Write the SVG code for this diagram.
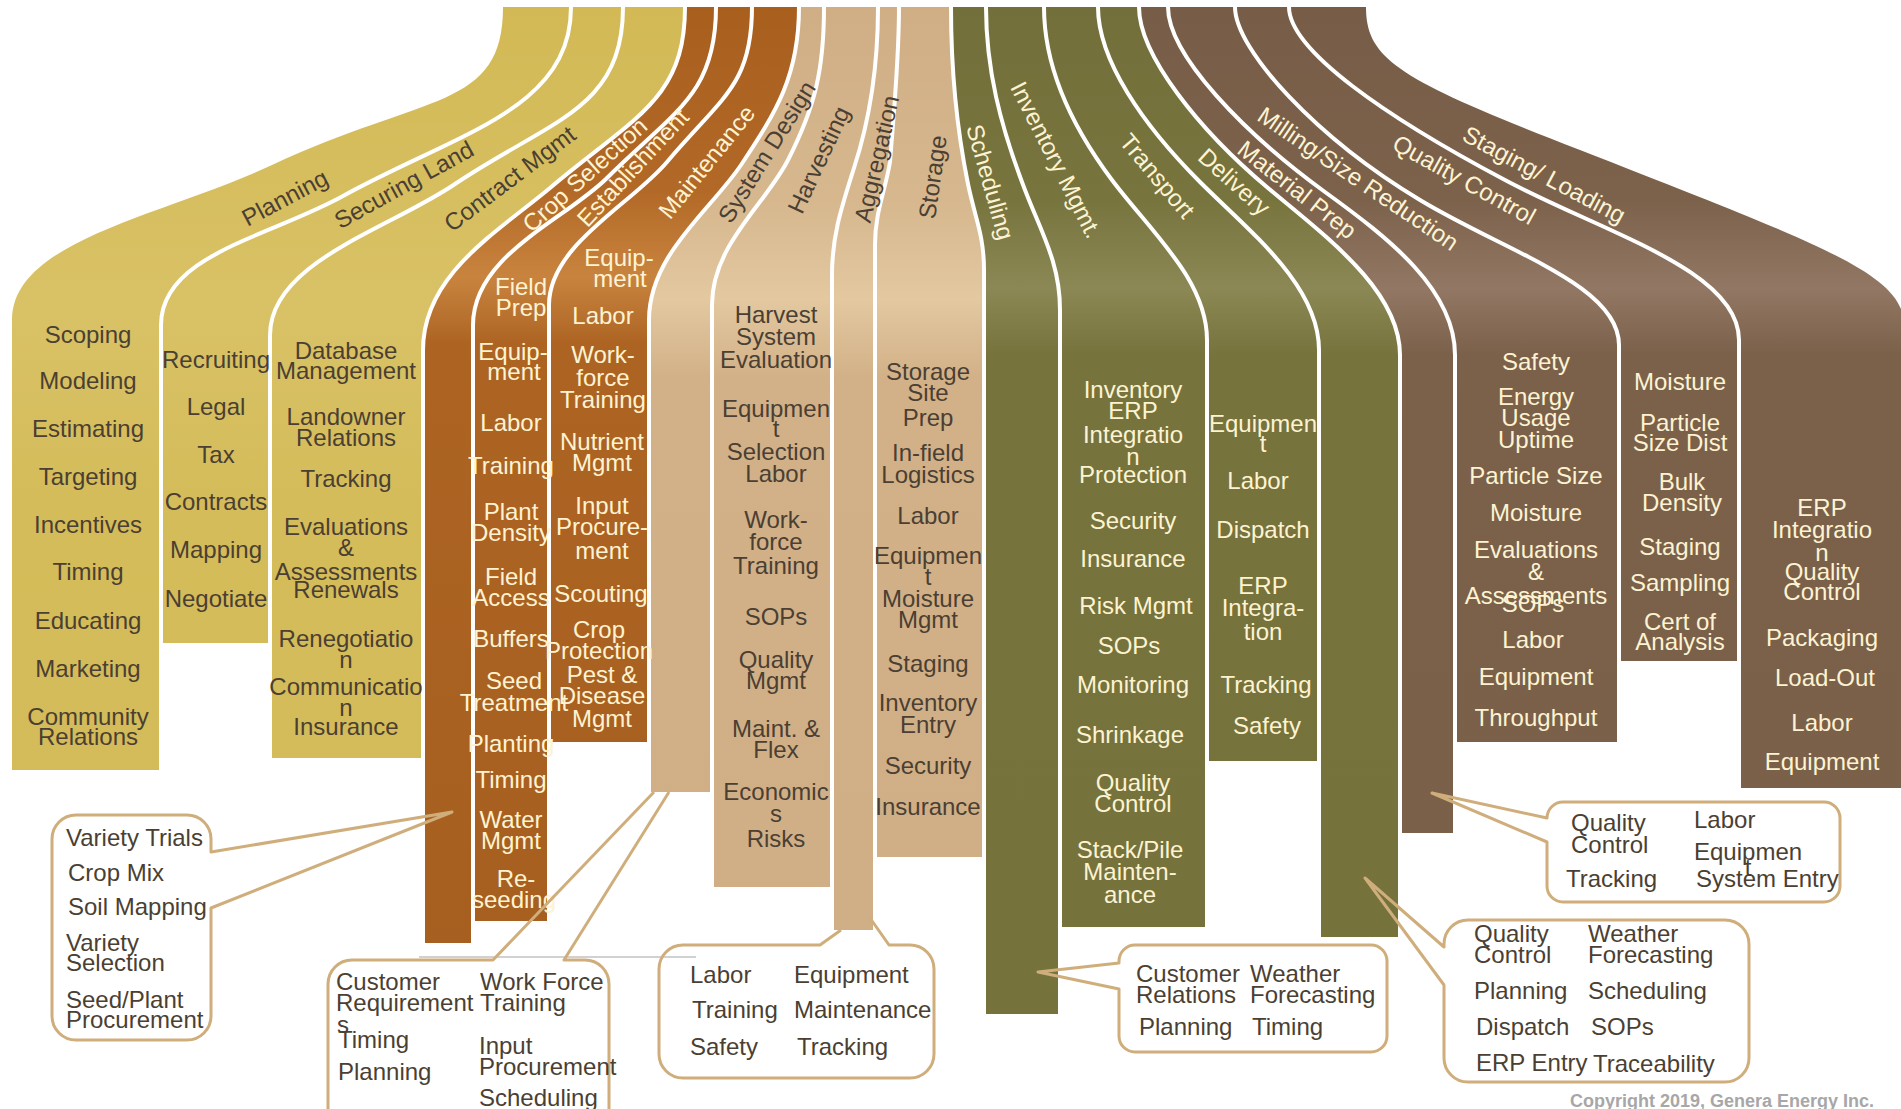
<svg xmlns="http://www.w3.org/2000/svg" width="1901" height="1109" viewBox="0 0 1901 1109">
<defs>
<style>
.t{font-family:"Liberation Sans",Arial,Helvetica,sans-serif;font-size:24px;text-anchor:middle}
.d{fill:#4b3f33}
.l{fill:#fdf3d2}
.s{text-anchor:start}
.sep{fill:none;stroke:#ffffff;stroke-width:4}
.co{fill:none;stroke:#cfae7c;stroke-width:3;stroke-linejoin:round}
.cp{font-family:"Liberation Sans",Arial,Helvetica,sans-serif;font-size:18px;font-weight:bold;fill:#a7a7a7}
</style>
<linearGradient id="gY" gradientUnits="userSpaceOnUse" x1="0" y1="0" x2="0" y2="1109">
<stop offset="0" stop-color="#d2b955"/><stop offset="0.28" stop-color="#d9c266"/><stop offset="0.45" stop-color="#d4bc5a"/><stop offset="1" stop-color="#d3bb58"/>
</linearGradient>
<linearGradient id="gO" gradientUnits="userSpaceOnUse" x1="0" y1="0" x2="0" y2="1109">
<stop offset="0" stop-color="#a85f1e"/><stop offset="0.17" stop-color="#b26826"/><stop offset="0.25" stop-color="#c8843f"/><stop offset="0.31" stop-color="#ad6423"/><stop offset="1" stop-color="#a55e1f"/>
</linearGradient>
<linearGradient id="gT" gradientUnits="userSpaceOnUse" x1="0" y1="0" x2="0" y2="1109">
<stop offset="0" stop-color="#d0ae85"/><stop offset="0.18" stop-color="#d6b78e"/><stop offset="0.27" stop-color="#e3c8a0"/><stop offset="0.34" stop-color="#d2b188"/><stop offset="1" stop-color="#cfae85"/>
</linearGradient>
<linearGradient id="gV" gradientUnits="userSpaceOnUse" x1="0" y1="0" x2="0" y2="1109">
<stop offset="0" stop-color="#726f3a"/><stop offset="0.18" stop-color="#77743e"/><stop offset="0.26" stop-color="#8b8855"/><stop offset="0.32" stop-color="#76733d"/><stop offset="1" stop-color="#75723c"/>
</linearGradient>
<linearGradient id="gB" gradientUnits="userSpaceOnUse" x1="0" y1="0" x2="0" y2="1109">
<stop offset="0" stop-color="#775d47"/><stop offset="0.18" stop-color="#7c624b"/><stop offset="0.26" stop-color="#927864"/><stop offset="0.32" stop-color="#7b614a"/><stop offset="1" stop-color="#7a6049"/>
</linearGradient>
<clipPath id="L1"><path d="M571,-20 L571,7 C571,110 457,133 343,196 C269,237 161,255 161,325 L161,1200 L-50,1200 L-50,-20 Z"/></clipPath>
<clipPath id="L2"><path d="M623,-20 L623,7 C623,110 550,120 455,184 C389,229 270,262 270,335 L270,1200 L-50,1200 L-50,-20 Z"/></clipPath>
<clipPath id="L3"><path d="M685,-20 L685,7 C685,100 634,117 550,188 C496,233 423,275 423,350 L423,1200 L-50,1200 L-50,-20 Z"/></clipPath>
<clipPath id="L4"><path d="M716,-20 L716,7 C716,95 674,111 607,178 C565,220 473,255 473,325 L473,1200 L-50,1200 L-50,-20 Z"/></clipPath>
<clipPath id="L5"><path d="M752,-20 L752,7 C752,85 722,97 667,162 C632,204 549,245 549,305 L549,1200 L-50,1200 L-50,-20 Z"/></clipPath>
<clipPath id="L6"><path d="M799,-20 L799,7 C799,75 777,111 741,165 C710,211 649,255 649,320 L649,1200 L-50,1200 L-50,-20 Z"/></clipPath>
<clipPath id="L7"><path d="M824,-20 L824,7 C824,70 815,107 788,160 C765,205 712,245 712,305 L712,1200 L-50,1200 L-50,-20 Z"/></clipPath>
<clipPath id="L8"><path d="M878,-20 L878,7 C878,65 871,116 854,168 C842,206 832,235 832,275 L832,1200 L-50,1200 L-50,-20 Z"/></clipPath>
<clipPath id="L9"><path d="M899,-20 L899,7 C899,60 894,110 890,162 C885,192 875,212 875,245 L875,1200 L-50,1200 L-50,-20 Z"/></clipPath>
<clipPath id="L10"><path d="M951,-20 L951,7 C951,75 957,130 968,184 C975,218 984,235 984,270 L984,1200 L-50,1200 L-50,-20 Z"/></clipPath>
<clipPath id="L11"><path d="M986,-20 L986,7 C986,70 1001,126 1022,182 C1039,229 1060,260 1060,310 L1060,1200 L-50,1200 L-50,-20 Z"/></clipPath>
<clipPath id="L12"><path d="M1044,-20 L1044,7 C1044,65 1070,124 1112,180 C1151,232 1207,280 1207,340 L1207,1200 L-50,1200 L-50,-20 Z"/></clipPath>
<clipPath id="L13"><path d="M1098,-20 L1098,7 C1098,60 1143,125 1200,182 C1249,231 1319,285 1319,350 L1319,1200 L-50,1200 L-50,-20 Z"/></clipPath>
<clipPath id="L14"><path d="M1139,-20 L1139,7 C1139,55 1199,130 1268,188 C1325,236 1400,290 1400,355 L1400,1200 L-50,1200 L-50,-20 Z"/></clipPath>
<clipPath id="L15"><path d="M1168,-20 L1168,7 C1168,55 1244,133 1325,192 C1390,239 1455,290 1455,355 L1455,1200 L-50,1200 L-50,-20 Z"/></clipPath>
<clipPath id="L16"><path d="M1235,-20 L1235,7 C1235,50 1317,138 1420,200 C1506,252 1619,285 1619,345 L1619,1200 L-50,1200 L-50,-20 Z"/></clipPath>
<clipPath id="L17"><path d="M1289,-20 L1289,7 C1289,50 1386,117 1505,180 C1602,232 1739,270 1739,340 L1739,1200 L-50,1200 L-50,-20 Z"/></clipPath>
<clipPath id="L18"><path d="M1366,-20 L1366,7 C1366,60 1400,80 1580,150 C1840,252 1905,275 1905,330 L1905,1200 L-50,1200 L-50,-20 Z"/></clipPath>
</defs>
<rect x="0" y="0" width="1901" height="1109" fill="#ffffff"/>

<g id="bands">
<path id="band-planning" fill="url(#gY)" clip-path="url(#L1)" d="M503,7 C503,110 426,93 272,165 C163,216 12,240 12,320 L12,770 L1960,770 L1960,7 Z"/>
<path id="band-securing-land" fill="url(#gY)" clip-path="url(#L2)" d="M571,7 C571,110 457,133 343,196 C269,237 161,255 161,325 L161,643 L1960,643 L1960,7 Z"/>
<path id="band-contract-mgmt" fill="url(#gY)" clip-path="url(#L3)" d="M623,7 C623,110 550,120 455,184 C389,229 270,262 270,335 L270,758 L1960,758 L1960,7 Z"/>
<path id="band-crop-selection" fill="url(#gO)" clip-path="url(#L4)" d="M685,7 C685,100 634,117 550,188 C496,233 423,275 423,350 L423,943 L1960,943 L1960,7 Z"/>
<path id="band-establishment" fill="url(#gO)" clip-path="url(#L5)" d="M716,7 C716,95 674,111 607,178 C565,220 473,255 473,325 L473,921 L1960,921 L1960,7 Z"/>
<path id="band-maintenance" fill="url(#gO)" clip-path="url(#L6)" d="M752,7 C752,85 722,97 667,162 C632,204 549,245 549,305 L549,742 L1960,742 L1960,7 Z"/>
<path id="band-system-design" fill="url(#gT)" clip-path="url(#L7)" d="M799,7 C799,75 777,111 741,165 C710,211 649,255 649,320 L649,792 L1960,792 L1960,7 Z"/>
<path id="band-harvesting" fill="url(#gT)" clip-path="url(#L8)" d="M824,7 C824,70 815,107 788,160 C765,205 712,245 712,305 L712,887 L1960,887 L1960,7 Z"/>
<path id="band-aggregation" fill="url(#gT)" clip-path="url(#L9)" d="M878,7 C878,65 871,116 854,168 C842,206 832,235 832,275 L832,930 L1960,930 L1960,7 Z"/>
<path id="band-storage" fill="url(#gT)" clip-path="url(#L10)" d="M899,7 C899,60 894,110 890,162 C885,192 875,212 875,245 L875,857 L1960,857 L1960,7 Z"/>
<path id="band-scheduling" fill="url(#gV)" clip-path="url(#L11)" d="M951,7 C951,75 957,130 968,184 C975,218 984,235 984,270 L984,1014 L1960,1014 L1960,7 Z"/>
<path id="band-inventory-mgmt" fill="url(#gV)" clip-path="url(#L12)" d="M986,7 C986,70 1001,126 1022,182 C1039,229 1060,260 1060,310 L1060,927 L1960,927 L1960,7 Z"/>
<path id="band-transport" fill="url(#gV)" clip-path="url(#L13)" d="M1044,7 C1044,65 1070,124 1112,180 C1151,232 1207,280 1207,340 L1207,761 L1960,761 L1960,7 Z"/>
<path id="band-delivery" fill="url(#gV)" clip-path="url(#L14)" d="M1098,7 C1098,60 1143,125 1200,182 C1249,231 1319,285 1319,350 L1319,937 L1960,937 L1960,7 Z"/>
<path id="band-material-prep" fill="url(#gB)" clip-path="url(#L15)" d="M1139,7 C1139,55 1199,130 1268,188 C1325,236 1400,290 1400,355 L1400,833 L1960,833 L1960,7 Z"/>
<path id="band-milling" fill="url(#gB)" clip-path="url(#L16)" d="M1168,7 C1168,55 1244,133 1325,192 C1390,239 1455,290 1455,355 L1455,742 L1960,742 L1960,7 Z"/>
<path id="band-quality-control" fill="url(#gB)" clip-path="url(#L17)" d="M1235,7 C1235,50 1317,138 1420,200 C1506,252 1619,285 1619,345 L1619,661 L1960,661 L1960,7 Z"/>
<path id="band-staging-loading" fill="url(#gB)" clip-path="url(#L18)" d="M1289,7 C1289,50 1386,117 1505,180 C1602,232 1739,270 1739,340 L1739,788 L1960,788 L1960,7 Z"/>
</g>

<g id="separators">
<path class="sep" d="M571,7 C571,110 457,133 343,196 C269,237 161,255 161,325 L161,770"/>
<path class="sep" d="M623,7 C623,110 550,120 455,184 C389,229 270,262 270,335 L270,758"/>
<path class="sep" d="M685,7 C685,100 634,117 550,188 C496,233 423,275 423,350 L423,943"/>
<path class="sep" d="M716,7 C716,95 674,111 607,178 C565,220 473,255 473,325 L473,943"/>
<path class="sep" d="M752,7 C752,85 722,97 667,162 C632,204 549,245 549,305 L549,921"/>
<path class="sep" d="M799,7 C799,75 777,111 741,165 C710,211 649,255 649,320 L649,792"/>
<path class="sep" d="M824,7 C824,70 815,107 788,160 C765,205 712,245 712,305 L712,887"/>
<path class="sep" d="M878,7 C878,65 871,116 854,168 C842,206 832,235 832,275 L832,930"/>
<path class="sep" d="M899,7 C899,60 894,110 890,162 C885,192 875,212 875,245 L875,930"/>
<path class="sep" d="M951,7 C951,75 957,130 968,184 C975,218 984,235 984,270 L984,1014"/>
<path class="sep" d="M986,7 C986,70 1001,126 1022,182 C1039,229 1060,260 1060,310 L1060,1014"/>
<path class="sep" d="M1044,7 C1044,65 1070,124 1112,180 C1151,232 1207,280 1207,340 L1207,927"/>
<path class="sep" d="M1098,7 C1098,60 1143,125 1200,182 C1249,231 1319,285 1319,350 L1319,937"/>
<path class="sep" d="M1139,7 C1139,55 1199,130 1268,188 C1325,236 1400,290 1400,355 L1400,937"/>
<path class="sep" d="M1168,7 C1168,55 1244,133 1325,192 C1390,239 1455,290 1455,355 L1455,833"/>
<path class="sep" d="M1235,7 C1235,50 1317,138 1420,200 C1506,252 1619,285 1619,345 L1619,742"/>
<path class="sep" d="M1289,7 C1289,50 1386,117 1505,180 C1602,232 1739,270 1739,340 L1739,788"/>
</g>

<g id="planning" class="t d">
<text transform="translate(285,198) rotate(-28)" y="8">Planning</text>
<text x="88" y="343">Scoping</text><text x="88" y="389">Modeling</text><text x="88" y="437">Estimating</text><text x="88" y="485">Targeting</text><text x="88" y="533">Incentives</text><text x="88" y="580">Timing</text><text x="88" y="629">Educating</text><text x="88" y="677">Marketing</text><text x="88" y="725">Community</text><text x="88" y="745">Relations</text>
</g>
<g id="securing-land" class="t d">
<text transform="translate(404,185) rotate(-29)" y="8">Securing Land</text>
<text x="216" y="368">Recruiting</text><text x="216" y="415">Legal</text><text x="216" y="463">Tax</text><text x="216" y="510">Contracts</text><text x="216" y="558">Mapping</text><text x="216" y="607">Negotiate</text>
</g>
<g id="contract-mgmt" class="t d">
<text transform="translate(510,179) rotate(-37)" y="8">Contract Mgmt</text>
<text x="346" y="359">Database</text><text x="346" y="379">Management</text><text x="346" y="425">Landowner</text><text x="346" y="446">Relations</text><text x="346" y="487">Tracking</text><text x="346" y="535">Evaluations</text><text x="346" y="556">&amp;</text><text x="346" y="580">Assessments</text><text x="346" y="598">Renewals</text><text x="346" y="647">Renegotiatio</text><text x="346" y="668">n</text><text x="346" y="695">Communicatio</text><text x="346" y="716">n</text><text x="346" y="735">Insurance</text>
</g>
<g id="crop-selection" class="t l">
<text transform="translate(585,175) rotate(-42)" y="8">Crop Selection</text>
</g>
<g id="establishment" class="t l">
<text transform="translate(633,168) rotate(-47)" y="8">Establishment</text>
<text x="521" y="295">Field</text><text x="521" y="316">Prep</text><text x="513" y="360">Equip-</text><text x="514" y="380">ment</text><text x="511" y="431">Labor</text><text x="511" y="474">Training</text><text x="511" y="520">Plant</text><text x="511" y="541">Density</text><text x="511" y="585">Field</text><text x="511" y="606">Access</text><text x="511" y="647">Buffers</text><text x="514" y="689">Seed</text><text x="514" y="711">Treatment</text><text x="511" y="752">Planting</text><text x="511" y="788">Timing</text><text x="511" y="828">Water</text><text x="511" y="849">Mgmt</text><text x="516" y="887">Re-</text><text x="514" y="908">seeding</text>
</g>
<g id="maintenance" class="t l">
<text transform="translate(707,162) rotate(-51)" y="8">Maintenance</text>
<text x="619" y="266">Equip-</text><text x="620" y="287">ment</text><text x="603" y="324">Labor</text><text x="603" y="363">Work-</text><text x="603" y="386">force</text><text x="603" y="408">Training</text><text x="602" y="450">Nutrient</text><text x="602" y="471">Mgmt</text><text x="602" y="514">Input</text><text x="602" y="535">Procure-</text><text x="602" y="559">ment</text><text x="601" y="602">Scouting</text><text x="599" y="638">Crop</text><text x="599" y="659">Protection</text><text x="602" y="683">Pest &amp;</text><text x="602" y="704">Disease</text><text x="602" y="727">Mgmt</text>
</g>
<g id="system-design" class="t d">
<text transform="translate(767,152) rotate(-58)" y="8">System Design</text>
</g>
<g id="harvesting" class="t d">
<text transform="translate(819,160) rotate(-65)" y="8">Harvesting</text>
<text x="776" y="323">Harvest</text><text x="776" y="345">System</text><text x="776" y="368">Evaluation</text><text x="776" y="417">Equipmen</text><text x="776" y="437">t</text><text x="776" y="460">Selection</text><text x="776" y="482">Labor</text><text x="776" y="528">Work-</text><text x="776" y="550">force</text><text x="776" y="574">Training</text><text x="776" y="625">SOPs</text><text x="776" y="668">Quality</text><text x="776" y="689">Mgmt</text><text x="776" y="737">Maint. &amp;</text><text x="776" y="758">Flex</text><text x="776" y="800">Economic</text><text x="776" y="822">s</text><text x="776" y="847">Risks</text>
</g>
<g id="aggregation" class="t d">
<text transform="translate(877,159) rotate(-77)" y="8">Aggregation</text>
</g>
<g id="storage" class="t d">
<text transform="translate(933,177) rotate(-82)" y="8">Storage</text>
<text x="928" y="380">Storage</text><text x="928" y="401">Site</text><text x="928" y="426">Prep</text><text x="928" y="461">In-field</text><text x="928" y="483">Logistics</text><text x="928" y="524">Labor</text><text x="928" y="564">Equipmen</text><text x="928" y="585">t</text><text x="928" y="607">Moisture</text><text x="928" y="628">Mgmt</text><text x="928" y="672">Staging</text><text x="928" y="711">Inventory</text><text x="928" y="733">Entry</text><text x="928" y="774">Security</text><text x="928" y="815">Insurance</text>
</g>
<g id="scheduling" class="t l">
<text transform="translate(990,182) rotate(74)" y="8">Scheduling</text>
</g>
<g id="inventory-mgmt" class="t l">
<text transform="translate(1056,160) rotate(63)" y="8">Inventory Mgmt.</text>
<text x="1133" y="398">Inventory</text><text x="1133" y="419">ERP</text><text x="1133" y="443">Integratio</text><text x="1133" y="465">n</text><text x="1133" y="483">Protection</text><text x="1133" y="529">Security</text><text x="1133" y="567">Insurance</text><text x="1136" y="614">Risk Mgmt</text><text x="1129" y="654">SOPs</text><text x="1133" y="693">Monitoring</text><text x="1130" y="743">Shrinkage</text><text x="1133" y="791">Quality</text><text x="1133" y="812">Control</text><text x="1130" y="858">Stack/Pile</text><text x="1130" y="880">Mainten-</text><text x="1130" y="903">ance</text>
</g>
<g id="transport" class="t l">
<text transform="translate(1157,176) rotate(50)" y="8">Transport</text>
<text x="1263" y="432">Equipmen</text><text x="1263" y="452">t</text><text x="1258" y="489">Labor</text><text x="1263" y="538">Dispatch</text><text x="1263" y="594">ERP</text><text x="1263" y="616">Integra-</text><text x="1263" y="640">tion</text><text x="1266" y="693">Tracking</text><text x="1267" y="734">Safety</text>
</g>
<g id="delivery" class="t l">
<text transform="translate(1234,182) rotate(42)" y="8">Delivery</text>
</g>
<g id="material-prep" class="t l">
<text transform="translate(1297,190) rotate(38)" y="8">Material Prep</text>
</g>
<g id="milling-size-reduction" class="t l">
<text transform="translate(1358,179) rotate(34)" y="8">Milling/Size Reduction</text>
<text x="1536" y="370">Safety</text><text x="1536" y="405">Energy</text><text x="1536" y="426">Usage</text><text x="1536" y="448">Uptime</text><text x="1536" y="484">Particle Size</text><text x="1536" y="521">Moisture</text><text x="1536" y="558">Evaluations</text><text x="1536" y="580">&amp;</text><text x="1536" y="604">Assessments</text><text x="1533" y="612">SOPs</text><text x="1533" y="648">Labor</text><text x="1536" y="685">Equipment</text><text x="1536" y="726">Throughput</text>
</g>
<g id="quality-control" class="t l">
<text transform="translate(1464,180) rotate(29)" y="8">Quality Control</text>
<text x="1680" y="390">Moisture</text><text x="1680" y="431">Particle</text><text x="1680" y="451">Size Dist</text><text x="1682" y="490">Bulk</text><text x="1682" y="511">Density</text><text x="1680" y="555">Staging</text><text x="1680" y="591">Sampling</text><text x="1680" y="630">Cert of</text><text x="1680" y="650">Analysis</text>
</g>
<g id="staging-loading" class="t l">
<text transform="translate(1544,175) rotate(28)" y="8">Staging/ Loading</text>
<text x="1822" y="516">ERP</text><text x="1822" y="538">Integratio</text><text x="1822" y="561">n</text><text x="1822" y="580">Quality</text><text x="1822" y="600">Control</text><text x="1822" y="646">Packaging</text><text x="1825" y="686">Load-Out</text><text x="1822" y="731">Labor</text><text x="1822" y="770">Equipment</text>
</g>

<g id="connectors">
<line x1="419" y1="957" x2="696" y2="957" stroke="#a3a3a3" stroke-width="1"/>
<path class="co" d="M76,815 H187 A24,24 0 0 1 211,839 V852 L452,812 L211,908 V1016 A24,24 0 0 1 187,1040 H76 A24,24 0 0 1 52,1016 V839 A24,24 0 0 1 76,815 Z"/>
<path class="co" d="M669,792 L564,960 H585 A24,24 0 0 1 609,984 V1130 M328,1130 V984 A24,24 0 0 1 352,960 H493 L654,792"/>
<path class="co" d="M870,918 L889,945 H910 A24,24 0 0 1 934,969 V1054 A24,24 0 0 1 910,1078 H683 A24,24 0 0 1 659,1054 V969 A24,24 0 0 1 683,945 H820 L841,930"/>
<path class="co" d="M1135,945 H1371 A16,16 0 0 1 1387,961 V1036 A16,16 0 0 1 1371,1052 H1135 A16,16 0 0 1 1119,1036 V989 L1038,972 L1119,963 V961 A16,16 0 0 1 1135,945 Z"/>
<path class="co" d="M1563,802 H1824 A16,16 0 0 1 1840,818 V886 A16,16 0 0 1 1824,902 H1563 A16,16 0 0 1 1547,886 V842 L1432,793 L1547,818 A16,16 0 0 1 1563,802 Z"/>
<path class="co" d="M1468,920 H1725 A24,24 0 0 1 1749,944 V1058 A24,24 0 0 1 1725,1082 H1468 A24,24 0 0 1 1444,1058 V985 L1365,878 L1444,947 V944 A24,24 0 0 1 1468,920 Z"/>
</g>

<g id="callout-crop-selection" class="t d s">
<text x="66" y="846">Variety Trials</text><text x="68" y="881">Crop Mix</text><text x="68" y="915">Soil Mapping</text><text x="66" y="951">Variety</text><text x="66" y="971">Selection</text><text x="66" y="1008">Seed/Plant</text><text x="66" y="1028">Procurement</text>
</g>
<g id="callout-system-design" class="t d s">
<text x="336" y="990">Customer</text><text x="336" y="1011">Requirement</text><text x="337" y="1033">s</text><text x="338" y="1048">Timing</text><text x="338" y="1080">Planning</text><text x="480" y="990">Work Force</text><text x="480" y="1011">Training</text><text x="479" y="1054">Input</text><text x="479" y="1075">Procurement</text><text x="479" y="1106">Scheduling</text>
</g>
<g id="callout-aggregation" class="t d s">
<text x="690" y="983">Labor</text><text x="794" y="983">Equipment</text><text x="692" y="1018">Training</text><text x="794" y="1018">Maintenance</text><text x="690" y="1055">Safety</text><text x="797" y="1055">Tracking</text>
</g>
<g id="callout-scheduling" class="t d s">
<text x="1136" y="982">Customer</text><text x="1136" y="1003">Relations</text><text x="1139" y="1035">Planning</text><text x="1250" y="982">Weather</text><text x="1250" y="1003">Forecasting</text><text x="1252" y="1035">Timing</text>
</g>
<g id="callout-material-prep" class="t d s">
<text x="1571" y="831">Quality</text><text x="1571" y="853">Control</text><text x="1566" y="887">Tracking</text><text x="1694" y="828">Labor</text><text x="1694" y="860">Equipmen</text><text x="1748" y="876" style="text-anchor:middle">t</text><text x="1696" y="887">System Entry</text>
</g>
<g id="callout-delivery" class="t d s">
<text x="1474" y="942">Quality</text><text x="1474" y="963">Control</text><text x="1474" y="999">Planning</text><text x="1476" y="1035">Dispatch</text><text x="1476" y="1071">ERP Entry</text><text x="1588" y="942">Weather</text><text x="1588" y="963">Forecasting</text><text x="1588" y="999">Scheduling</text><text x="1591" y="1035">SOPs</text><text x="1593" y="1072">Traceability</text>
</g>
<text class="cp" x="1570" y="1107">Copyright 2019, Genera Energy Inc.</text>
</svg>
